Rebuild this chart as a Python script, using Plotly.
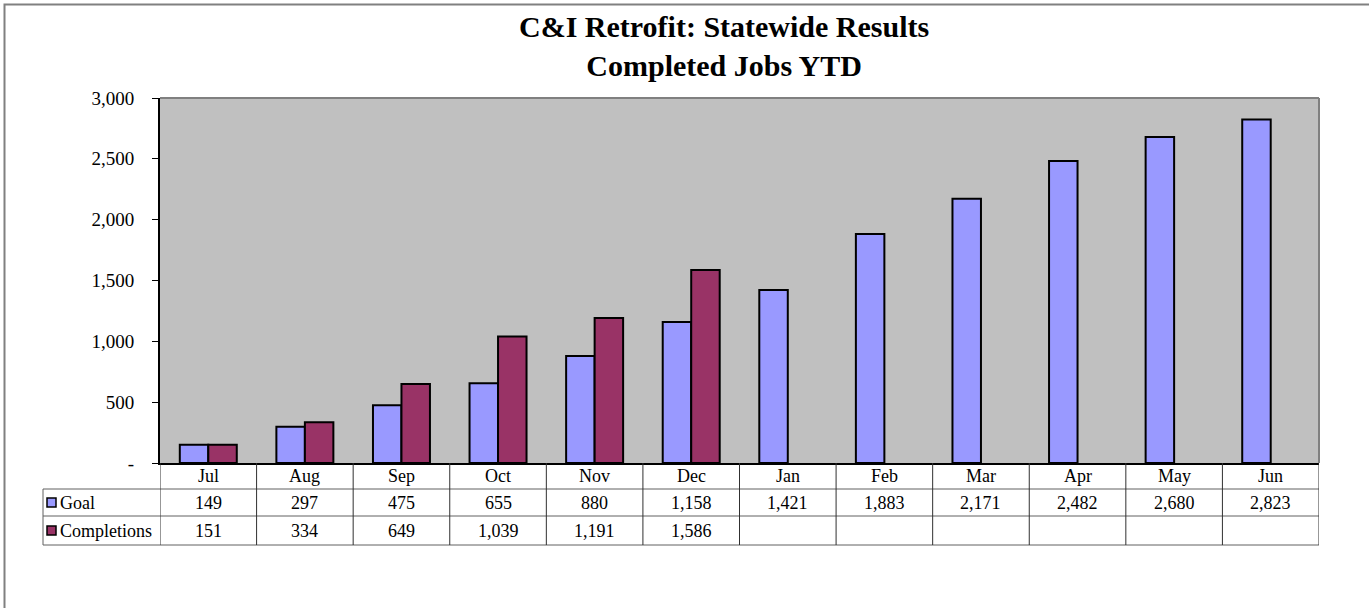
import plotly.graph_objects as go

months = ["Jul", "Aug", "Sep", "Oct", "Nov", "Dec", "Jan", "Feb", "Mar", "Apr", "May", "Jun"]
goal = [149, 297, 475, 655, 880, 1158, 1421, 1883, 2171, 2482, 2680, 2823]
completions = [151, 334, 649, 1039, 1191, 1586, None, None, None, None, None, None]
series_names = ["Goal", "Completions"]
series_colors = ["#9999FF", "#993366"]
y_ticks = [0, 500, 1000, 1500, 2000, 2500, 3000]
y_tick_text = ["-", "500", "1,000", "1,500", "2,000", "2,500", "3,000"]
title_lines = ["C&I Retrofit: Statewide Results", "Completed Jobs YTD"]

W, H = 1369, 608
L, R, T, B = 160, 50, 98, 145
PW, PH = W - L - R, H - T - B


def px(x):
    return (x - L) / PW


def py(y):
    return (H - B - y) / PH


FONT = "Liberation Serif, Times New Roman, serif"
TF = 18

fig = go.Figure()
series = [goal, completions]
for name, vals, col in zip(series_names, series, series_colors):
    fig.add_trace(go.Bar(
        x=list(range(len(months))), y=vals, name=name,
        marker=dict(color=col, line=dict(color="black", width=2)),
        hoverinfo="x+y",
    ))

shapes = []
ann = []

# outer chart border
shapes.append(dict(type="rect", xref="paper", yref="paper",
                   x0=px(4.5), x1=px(1400), y0=py(640), y1=py(4.5),
                   line=dict(color="#808080", width=2), fillcolor="rgba(0,0,0,0)", layer="below"))
# plot area top & right border (gray)
shapes.append(dict(type="line", xref="paper", yref="paper", x0=0, x1=1, y0=1, y1=1,
                   line=dict(color="#808080", width=2)))
shapes.append(dict(type="line", xref="paper", yref="paper", x0=1, x1=1, y0=0, y1=1,
                   line=dict(color="#808080", width=2)))

y_r1, y_r2, y_r3 = py(489), py(516), py(545)
x_left = px(43)
grid_col = "#606060"
for yy in (y_r1, y_r2, y_r3):
    shapes.append(dict(type="line", xref="paper", yref="paper", x0=x_left, x1=1, y0=yy, y1=yy,
                       line=dict(color=grid_col, width=1)))
shapes.append(dict(type="line", xref="paper", yref="paper", x0=x_left, x1=x_left, y0=y_r3, y1=y_r1,
                   line=dict(color=grid_col, width=1)))
for i in range(len(months) + 1):
    shapes.append(dict(type="line", xref="x", yref="paper", x0=i - 0.5, x1=i - 0.5,
                       y0=y_r3, y1=0, line=dict(color="#303030", width=1)))

row_pix = [502.5, 530.5]
rows_y = [py(p) for p in row_pix]
for i, m in enumerate(months):
    ann.append(dict(x=i, y=py(476), xref="x", yref="paper", text=m, showarrow=False,
                    xanchor="center", yanchor="middle",
                    font=dict(family=FONT, size=TF, color="black")))
    for vals, ry in zip(series, rows_y):
        v = vals[i]
        if v is not None:
            ann.append(dict(x=i, y=ry, xref="x", yref="paper", text=f"{v:,}", showarrow=False,
                            xanchor="center", yanchor="middle",
                            font=dict(family=FONT, size=TF, color="black")))

for name, col, ry, ypix in zip(series_names, series_colors, rows_y, row_pix):
    shapes.append(dict(type="rect", xref="paper", yref="paper",
                       x0=px(47), x1=px(56), y0=py(ypix + 4.5), y1=py(ypix - 4.5),
                       fillcolor=col, line=dict(color="black", width=1.5)))
    ann.append(dict(x=px(58), y=ry, xref="paper", yref="paper", text=name, showarrow=False,
                    xanchor="left", yanchor="middle",
                    font=dict(family=FONT, size=TF, color="black")))

ann.append(dict(x=px(724), y=py(46), xref="paper", yref="paper",
                text="<br>".join("<b>" + t + "</b>" for t in title_lines),
                showarrow=False, xanchor="center", yanchor="middle", align="center",
                font=dict(family=FONT, size=30, color="black")))

fig.update_layout(
    width=W, height=H,
    margin=dict(l=L, r=R, t=T, b=B, autoexpand=False),
    paper_bgcolor="white", plot_bgcolor="#C0C0C0",
    barmode="group", bargap=0.41, bargroupgap=0,
    showlegend=False,
    shapes=shapes, annotations=ann,
    font=dict(family=FONT, size=TF, color="black"),
    xaxis=dict(range=[-0.5, len(months) - 0.5], showticklabels=False, ticks="",
               showgrid=False, zeroline=False, showline=True, linecolor="black", linewidth=2,
               fixedrange=True),
    yaxis=dict(range=[0, 3000], tickvals=y_ticks, ticktext=y_tick_text, ticks="outside",
               ticklen=6, tickcolor="black", tickwidth=1, showgrid=False, zeroline=False,
               showline=True, linecolor="black", linewidth=2, ticklabelstandoff=14,
               tickfont=dict(family=FONT, size=19, color="black"), fixedrange=True),
)

fig.write_html("out.html", config={"displayModeBar": False},
               post_script="document.body.style.margin='0px';")
